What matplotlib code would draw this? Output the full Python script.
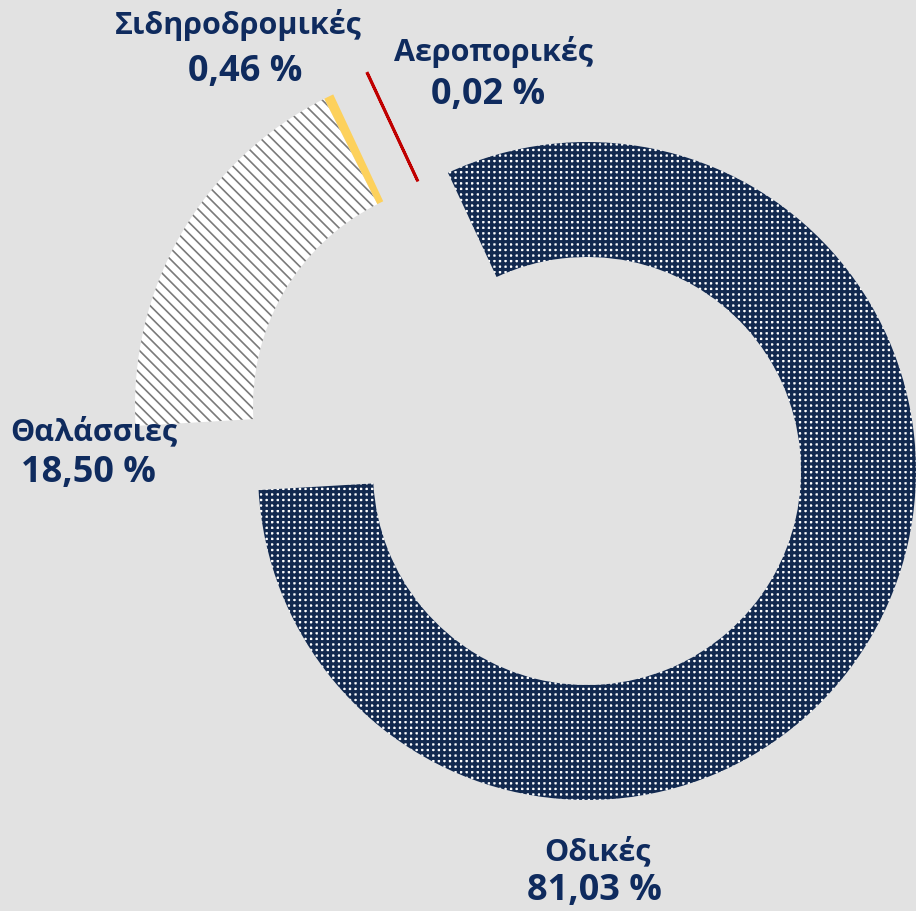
import matplotlib
matplotlib.use("Agg")
import matplotlib.pyplot as plt
from matplotlib.patches import Wedge

# ---- data ----
categories = ["Οδικές", "Θαλάσσιες", "Σιδηροδρομικές", "Αεροπορικές"]
shares = [81.03, 18.50, 0.46, 0.02]
value_labels = ["81,03 %", "18,50 %", "0,46 %", "0,02 %"]

# ---- style / layout ----
W, H = 916, 911
bg = "#e2e2e2"
navy = "#12294f"
text_color = "#0f2b5e"
plt.rcParams["font.family"] = ["Open Sans", "DejaVu Sans"]

fig = plt.figure(figsize=(W / 100, H / 100), dpi=100)
fig.patch.set_facecolor(bg)
ax = fig.add_axes([0, 0, 1, 1])
ax.set_xlim(0, W)
ax.set_ylim(0, H)
ax.set_aspect("equal")
ax.axis("off")

# centres / radii of the exploded pieces (pixel layout, y up)
centres = [(587, H - 471), (479, H - 406), (479, H - 406), (513, H - 385)]
outer = [329, 344, 344, 344]
inner = [214, 226, 226, 226]
faces = ["white", "white", "#fdd15c", "#c00000"]
edges = [navy, "#7a7a7a", "#fdd15c", "#c00000"]
hatches = ["+++", "\\\\\\", None, None]
hatch_lw = [2.3, 1.2, 1.0, 1.0]

start = 115.0  # angle where the first slice begins, drawn clockwise
total = sum(shares)
ang = start
for i, v in enumerate(shares):
    span = v / total * 360.0
    theta2 = ang
    theta1 = ang - span
    with plt.rc_context({"hatch.linewidth": hatch_lw[i]}):
        if span < 0.5:  # tiny slice: visible as a line
            w = Wedge(centres[i], outer[i], theta1, theta2, width=outer[i] - inner[i],
                      facecolor=faces[i], edgecolor=edges[i], linewidth=2.0)
        else:
            w = Wedge(centres[i], outer[i], theta1, theta2, width=outer[i] - inner[i],
                      facecolor=faces[i], edgecolor=edges[i], linewidth=0,
                      hatch=hatches[i])
        ax.add_patch(w)
    ang = theta1

# ---- labels ----
label_pos = {
    "Οδικές": (597, 852, 594, 891),
    "Θαλάσσιες": (94, 432, 88, 473),
    "Σιδηροδρομικές": (238, 25, 245, 72),
    "Αεροπορικές": (493, 52, 488, 95),
}
for cat, val in zip(categories, value_labels):
    x1, y1, x2, y2 = label_pos[cat]
    ax.text(x1, H - y1, cat, ha="center", va="center", fontsize=22,
            fontweight="bold", color=text_color)
    ax.text(x2, H - y2, val, ha="center", va="center", fontsize=26,
            fontweight="bold", color=text_color)

fig.savefig("out.png", dpi=100, facecolor=bg)
